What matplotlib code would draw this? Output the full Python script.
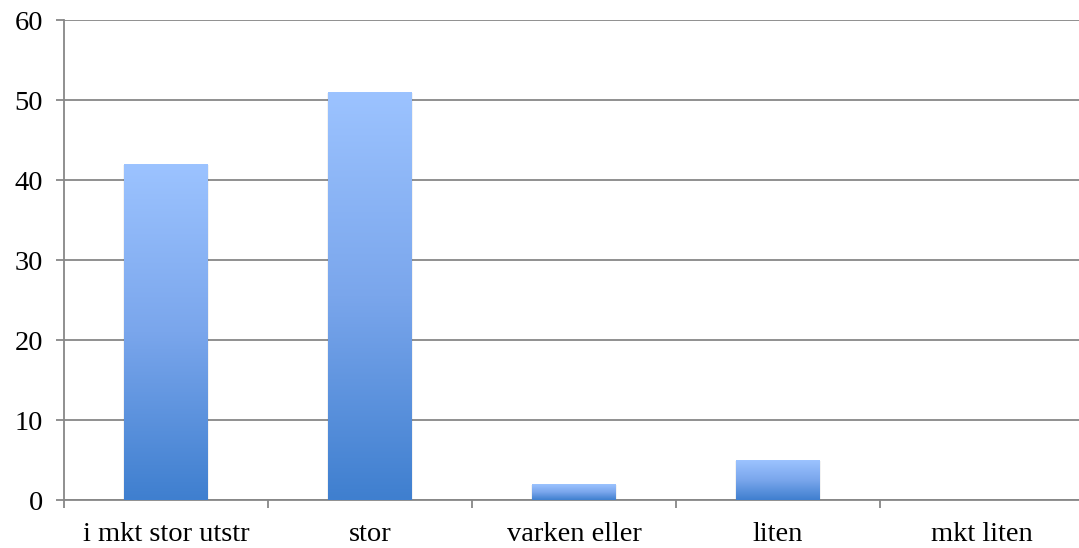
import numpy as np
import matplotlib
matplotlib.use("Agg")
import matplotlib.pyplot as plt
from matplotlib.colors import LinearSegmentedColormap

categories = ["i mkt stor utstr", "stor", "varken eller", "liten", "mkt liten"]
values = [42, 51, 2, 5, 0]
y_ticks = [0, 10, 20, 30, 40, 50, 60]

plt.rcParams["font.family"] = ["Liberation Serif", "DejaVu Serif"]

fig = plt.figure(figsize=(10.79, 5.48), dpi=100)
ax = fig.add_axes([64 / 1079, 48 / 548, 1020 / 1079, 480 / 548])

grid_col = "#878787"
x = np.arange(len(categories))
bars = ax.bar(x, values, width=0.41, color="none", zorder=3)

# gradient fill per bar: light at top, dark at bottom
cmap = LinearSegmentedColormap.from_list("bluegrad", ["#3f7fcf", "#7aa6ec", "#9cc3ff"])
grad = np.linspace(0, 1, 256).reshape(-1, 1)
for b in bars:
    h = b.get_height()
    if h <= 0:
        continue
    x0 = b.get_x()
    w = b.get_width()
    # soft shadow
    ax.add_patch(plt.Rectangle((x0 - 0.004, 0), w + 0.008, h - 0.1, color="#000000",
                               alpha=0.05, lw=0, zorder=2))
    ax.imshow(grad, extent=(x0, x0 + w, 0, h), origin="lower", cmap=cmap,
              aspect="auto", zorder=3, interpolation="bilinear")

ax.set_xlim(-0.5, len(categories) - 0.5)
ax.set_ylim(0, 60)
ax.set_yticks(y_ticks)
ax.set_xticks(x)
ax.set_xticklabels(categories)
ax.set_xticks(np.arange(len(categories) + 1) - 0.5, minor=True)

ax.yaxis.grid(True, color=grid_col, lw=1.3, zorder=1)
ax.set_axisbelow(True)
for s in ["top", "right"]:
    ax.spines[s].set_visible(False)
for s in ["left", "bottom"]:
    ax.spines[s].set_color(grid_col)
    ax.spines[s].set_linewidth(1.3)

ax.tick_params(axis="y", length=6, width=1.3, color=grid_col, pad=9, labelsize=20.5)
ax.tick_params(axis="x", which="major", length=0, pad=16, labelsize=20.5)
ax.tick_params(axis="x", which="minor", length=6, width=1.3, color=grid_col)

fig.savefig("out.png", dpi=100)
